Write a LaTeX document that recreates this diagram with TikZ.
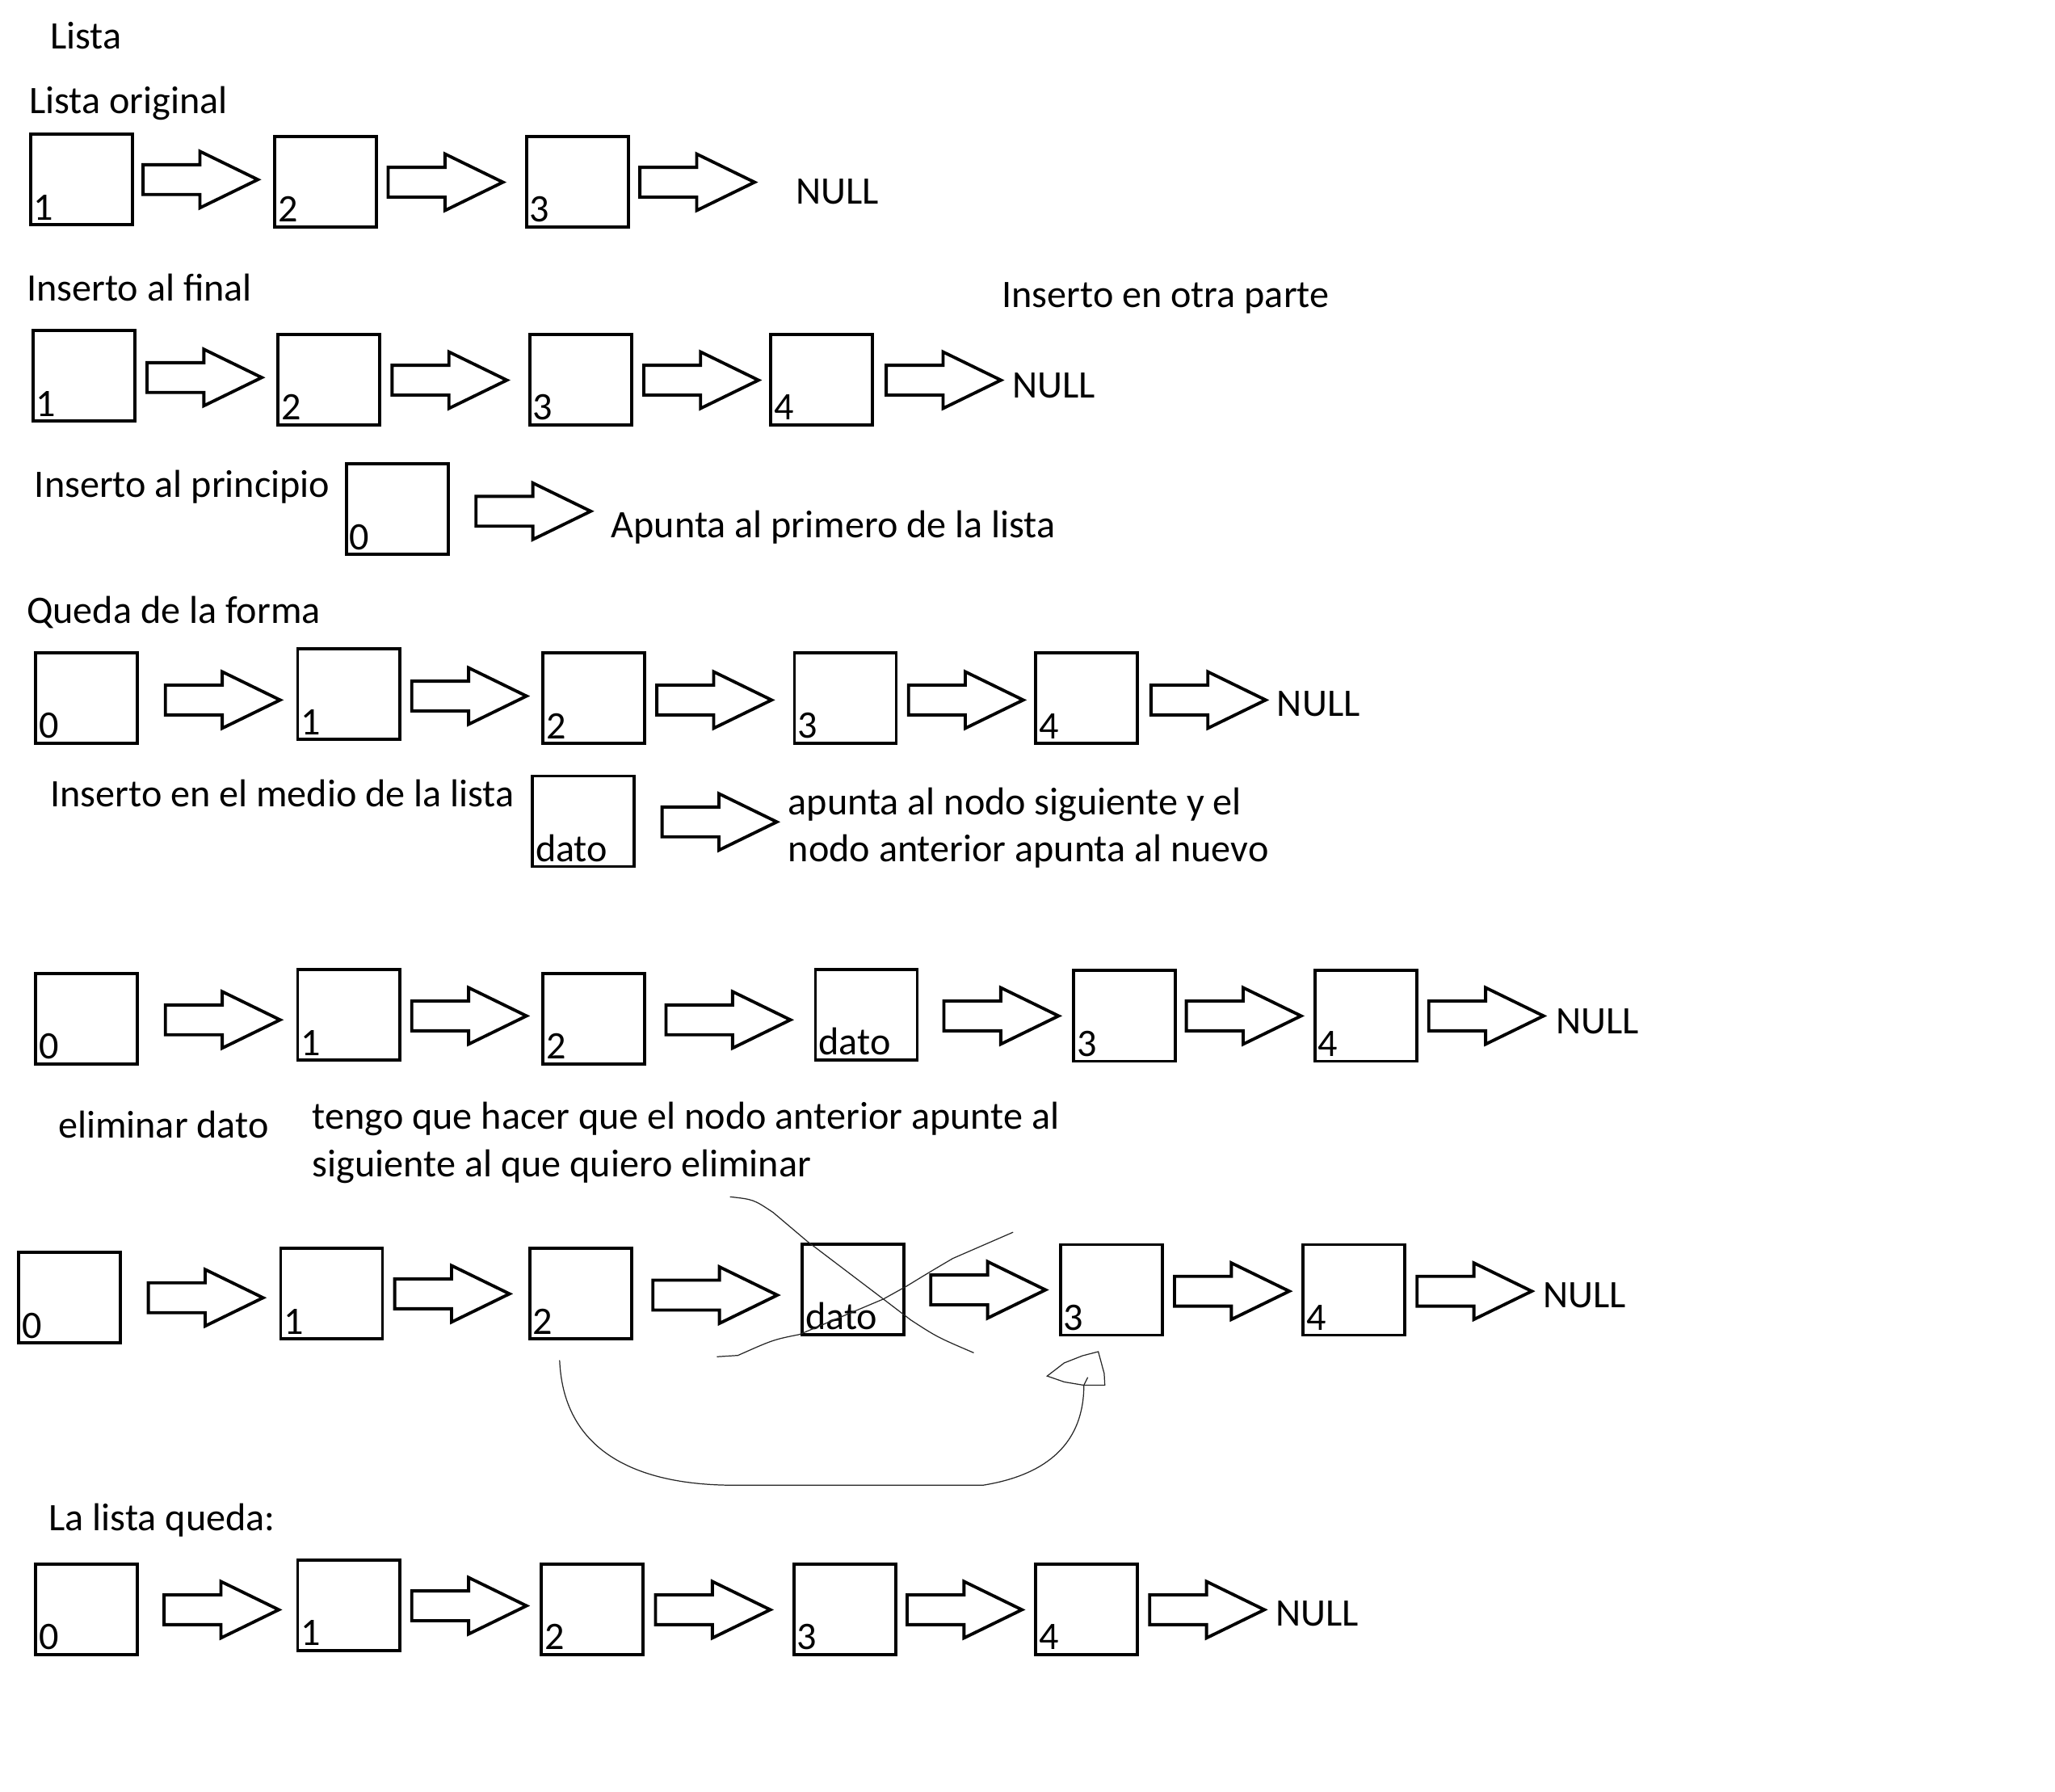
\documentclass[tikz,border=0pt]{standalone}
\usepackage{fontspec}
\setmainfont{Carlito}
\usetikzlibrary{calc,shapes.arrows}
\tikzset{
  nodo/.style={draw,line width=1.1pt,minimum width=1.26cm,minimum height=1.12cm,inner sep=0pt,
    label={[valor]south west:#1}},
  valor/.style={anchor=south west,inner xsep=1.5pt,inner ysep=2pt,font=\fontsize{13.7}{16}\selectfont},
  flecha/.style={single arrow,draw,line width=1.1pt,minimum height=1.42cm,
    inner xsep=0pt,inner ysep=4.7pt,single arrow head extend=0.165cm,
    single arrow tip angle=52,anchor=tail},
  texto/.style={anchor=base west,yshift=-0.185cm,inner sep=0pt,font=\fontsize{13.7}{16.5}\selectfont},
  trazo/.style={line width=0.35pt,draw=black!85},
}
\begin{document}
\begin{tikzpicture}[x=0.016224cm,y=-0.016224cm]
\useasboundingbox[fill=white] (0,0) rectangle (1568,1367);

% lista original
\node[texto] (titulo) at (38,26) {Lista};
\node[texto] (t-orig) at (22,75) {Lista original};
\node[nodo=1] (a1) at (62,137) {};
\node[nodo=2] (a2) at (248.5,138.5) {};
\node[nodo=3] (a3) at (440.5,138.5) {};
\node[flecha] (fa1) at (108,137) {};
\node[flecha] (fa2) at (295,139) {};
\node[flecha] (fa3) at (487,139) {};
\node[texto] (na) at (607,144) {NULL};

% inserto al final
\node[texto] (t-final) at (20,218) {Inserto al final};
\node[texto] (t-otra) at (764,223) {Inserto en otra parte};
\node[nodo=1] (b1) at (64,286.5) {};
\node[nodo=2] (b2) at (251,289.5) {};
\node[nodo=3] (b3) at (443,289.5) {};
\node[nodo=4] (b4) at (627,289.5) {};
\node[flecha] (fb1) at (111,288) {};
\node[flecha] (fb2) at (298,290) {};
\node[flecha] (fb3) at (490,290) {};
\node[flecha] (fb4) at (675,290) {};
\node[texto] (nb) at (772,292) {NULL};

% inserto al principio
\node[texto] (t-princ) at (26,368) {Inserto al principio};
\node[nodo=0] (c0) at (303,388.5) {};
\node[flecha] (fc0) at (362,390) {};
\node[texto] (t-apunta) at (466,399) {Apunta al primero de la lista};

% queda de la forma
\node[texto] (t-forma) at (20,464) {Queda de la forma};
\node[nodo=0] (d0) at (66,532.5) {};
\node[nodo=1] (d1) at (266,529.5) {};
\node[nodo=2] (d2) at (453,532.5) {};
\node[nodo=3] (d3) at (645,532.5) {};
\node[nodo=4] (d4) at (829,532.5) {};
\node[flecha] (fd0) at (125,534) {};
\node[flecha] (fd1) at (313,531) {};
\node[flecha] (fd2) at (500,534) {};
\node[flecha] (fd3) at (692,534) {};
\node[flecha] (fd4) at (877,534) {};
\node[texto] (nd) at (974,535) {NULL};

% inserto en el medio
\node[texto] (t-medio) at (38,604) {Inserto en el medio de la lista};
\node[nodo=dato] (e) at (445,626.5) {};
\node[flecha] (fe) at (504,627) {};
\node[texto] (t-sig1) at (601,610) {apunta al nodo siguiente y el};
\node[texto] (t-sig2) at (601,646) {nodo anterior apunta al nuevo};

\node[nodo=0] (f0) at (66,777) {};
\node[nodo=1] (f1) at (266,774) {};
\node[nodo=2] (f2) at (453,777) {};
\node[nodo=dato] (fdat) at (661,774) {};
\node[nodo=3] (f3) at (858,775) {};
\node[nodo=4] (f4) at (1042,775) {};
\node[flecha] (ff0) at (125,778) {};
\node[flecha] (ff1) at (313,775) {};
\node[flecha,minimum height=1.54cm] (ff2) at (507,778) {};
\node[flecha] (ff3) at (719,775) {};
\node[flecha] (ff4) at (904,775) {};
\node[flecha] (ff5) at (1089,775) {};
\node[texto] (nf) at (1187,777) {NULL};

% eliminar dato
\node[texto] (t-elim) at (44,857) {eliminar dato};
\node[texto] (t-tengo1) at (238,850) {tengo que hacer que el nodo anterior apunte al};
\node[texto] (t-tengo2) at (238,886) {siguiente al que quiero eliminar};

\node[nodo=0] (g0) at (53,990) {};
\node[nodo=1] (g1) at (253,987) {};
\node[nodo=2] (g2) at (443,987) {};
\node[nodo=dato] (gdat) at (651,983.5) {};
\node[nodo=3] (g3) at (848,984) {};
\node[nodo=4] (g4) at (1033,984) {};
\node[flecha] (fg0) at (112,990) {};
\node[flecha] (fg1) at (300,987) {};
\node[flecha,minimum height=1.54cm] (fg2) at (497,988) {};
\node[flecha] (fg3) at (709,984) {};
\node[flecha] (fg4) at (895,985) {};
\node[flecha] (fg5) at (1080,985) {};
\node[texto] (ng) at (1177,986) {NULL};

% tachado a mano
\draw[trazo] (557,913) .. controls (575,915) .. (590,925) -- (616,947) -- (674,991) -- (695,1007)
  .. controls (715,1020) .. (743,1032);
\draw[trazo] (547,1035) -- (563,1034) .. controls (590,1022) .. (610,1018) -- (674,991) -- (692,981)
  .. controls (710,970) .. (727,960) -- (773,940);

% salto de 2 a 3
\coordinate (sal) at ($(g2.south)+(-16,15)$);
\coordinate (lle) at ($(g3.south)+(-21,37)$);
\draw[trazo] (sal) .. controls (430,1110) and (490,1133) .. (560,1133) -- (750,1133)
  .. controls (800,1125) and (827,1100) .. (lle) -- ++(3,-6);
\begin{scope}[shift={(g3.south)}]
  \draw[trazo] (-49,30) -- (-36,20) -- (-22,14.5) -- (-10,11.4) -- (-5.5,28) -- (-5,37)
    -- (-21,37) -- (-36,34.5) -- cycle;
\end{scope}

% la lista queda
\node[texto] (t-queda) at (37,1156) {La lista queda:};
\node[nodo=0] (h0) at (66,1227.5) {};
\node[nodo=1] (h1) at (266,1224.5) {};
\node[nodo=2] (h2) at (452,1227.5) {};
\node[nodo=3] (h3) at (644.5,1227.5) {};
\node[nodo=4] (h4) at (829,1227.5) {};
\node[flecha] (fh0) at (124,1228) {};
\node[flecha] (fh1) at (313,1225) {};
\node[flecha] (fh2) at (499,1228) {};
\node[flecha] (fh3) at (691,1228) {};
\node[flecha] (fh4) at (876,1228) {};
\node[texto] (nh) at (973,1229) {NULL};
\end{tikzpicture}
\end{document}
